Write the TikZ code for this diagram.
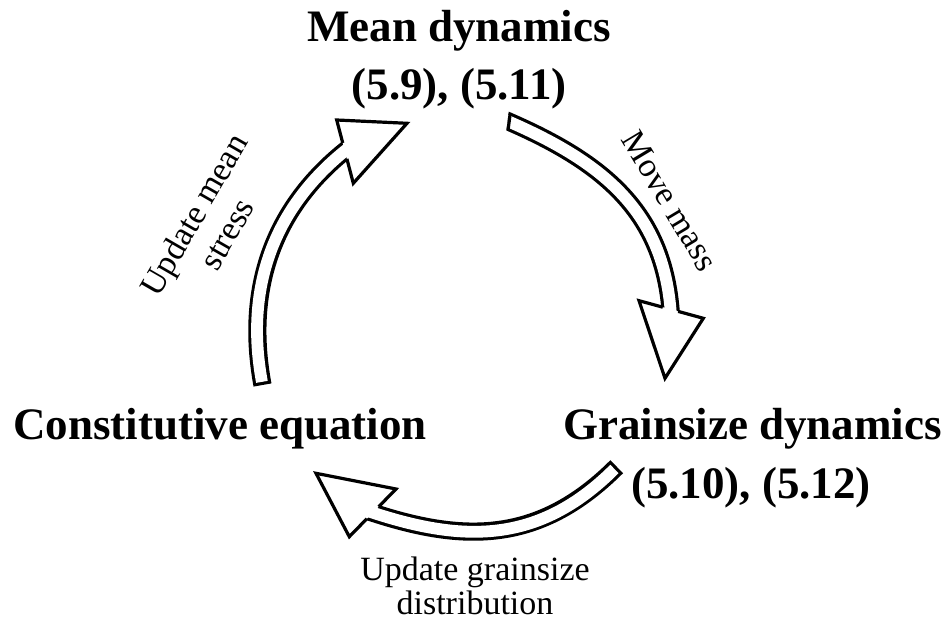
\documentclass[tikz,border=0pt]{standalone}
\usepackage{fontspec}
\setmainfont{Liberation Serif}
\begin{document}
\begin{tikzpicture}[x=1pt,y=1pt,
  title/.style={font=\fontsize{45}{54}\selectfont\bfseries, inner sep=0pt, anchor=base},
  lbl/.style={font=\fontsize{34}{38}\selectfont, inner sep=0pt},
  bandout/.style={line width=18.2pt, line cap=butt},
  bandin/.style={line width=11.8pt, white, line cap=butt, shorten <=3.2pt},
  headline/.style={line width=3.2pt, line join=miter, line cap=butt},
]
\useasboundingbox (0,0) rectangle (946,622);

% ---- labels
\node[title] (mean1) at (459,580) {Mean dynamics};
\node[title] (mean2) at (459,522) {(5.9), (5.11)};
\node[title] (const) at (220,182) {Constitutive equation};
\node[title] (grain1) at (752.5,182) {Grainsize dynamics};
\node[title] (grain2) at (751,124) {(5.10), (5.12)};
\node[lbl, anchor=base] (ug1) at (475,42) {Update grainsize};
\node[lbl, anchor=base] (ug2) at (475,8) {distribution};
\node[lbl, rotate=60, align=center] (ums) at (210,398) {Update mean\\stress};
\node[lbl, rotate=-59] (mm) at (670,421) {Move mass};

% ---- arrow 1: constitutive -> mean
\coordinate (a1t) at (262.5,237);
\coordinate (a1c1) at (243.5,340.2);
\coordinate (a1c2) at (278.5,417.4);
\coordinate (a1b) at (344.8,471);
\coordinate (a1e) at (352.6,477.3);
\coordinate (a1ob) at (336.7,502);
\coordinate (a1tip) at (407,498.7);
\coordinate (a1ib) at (353.3,438.7);
\coordinate (a1oj) at (342.75,479.0);
\coordinate (a1ij) at (346.9,463.1);
\draw[bandout] (a1t) .. controls (a1c1) and (a1c2) .. (a1b) -- (a1e);
\draw[bandin] (a1t) .. controls (a1c1) and (a1c2) .. (a1b) -- (a1e);
\fill[white] (a1ob) -- (a1tip) -- (a1ib) -- cycle;
\draw[headline] (a1oj) -- (a1ob) -- (a1tip) -- (a1ib) -- (a1ij);

% ---- arrow 2: mean -> grainsize (tail cut nearly vertical)
\coordinate (a2t) at (501.8,503.4);
\coordinate (a2c1) at (601.2,461.3);
\coordinate (a2c2) at (662,412.4);
\coordinate (a2b) at (670.5,312.8);
\coordinate (a2e) at (671.35,302.8);
\coordinate (a2ta) at (510.2,508.6);
\coordinate (a2tb) at (508.1,492.1);
\coordinate (a2ib) at (639,321.3);
\coordinate (a2ob) at (703.3,303.7);
\coordinate (a2tip) at (665,243.7);
\coordinate (a2ij) at (662.8,314.8);
\coordinate (a2oj) at (678.2,310.6);
\begin{scope}
  \clip (503.6,470) -- (511.3,530) -- (946,530) -- (946,0) -- (503.6,0) -- cycle;
  \draw[bandout] (a2t) .. controls (a2c1) and (a2c2) .. (a2b) -- (a2e);
  \draw[bandin, shorten <=0pt] (a2t) .. controls (a2c1) and (a2c2) .. (a2b) -- (a2e);
\end{scope}
\draw[headline] (a2ta) -- (a2tb);
\fill[white] (a2ob) -- (a2tip) -- (a2ib) -- cycle;
\draw[headline] (a2oj) -- (a2ob) -- (a2tip) -- (a2ib) -- (a2ij);

% ---- arrow 3: grainsize -> constitutive
\coordinate (a3t) at (616.7,155.3);
\coordinate (a3c1) at (538.9,77.5);
\coordinate (a3c2) at (463.05,79.85);
\coordinate (a3b) at (372.8,109.3);
\coordinate (a3e) at (363.3,112.4);
\coordinate (a3ib) at (396,133);
\coordinate (a3ob) at (349.3,85.3);
\coordinate (a3tip) at (316,148.7);
\coordinate (a3ij) at (378.7,115.3);
\coordinate (a3oj) at (366.9,103.3);
\draw[bandout] (a3t) .. controls (a3c1) and (a3c2) .. (a3b) -- (a3e);
\draw[bandin] (a3t) .. controls (a3c1) and (a3c2) .. (a3b) -- (a3e);
\fill[white] (a3ob) -- (a3tip) -- (a3ib) -- cycle;
\draw[headline] (a3oj) -- (a3ob) -- (a3tip) -- (a3ib) -- (a3ij);
\end{tikzpicture}
\end{document}
